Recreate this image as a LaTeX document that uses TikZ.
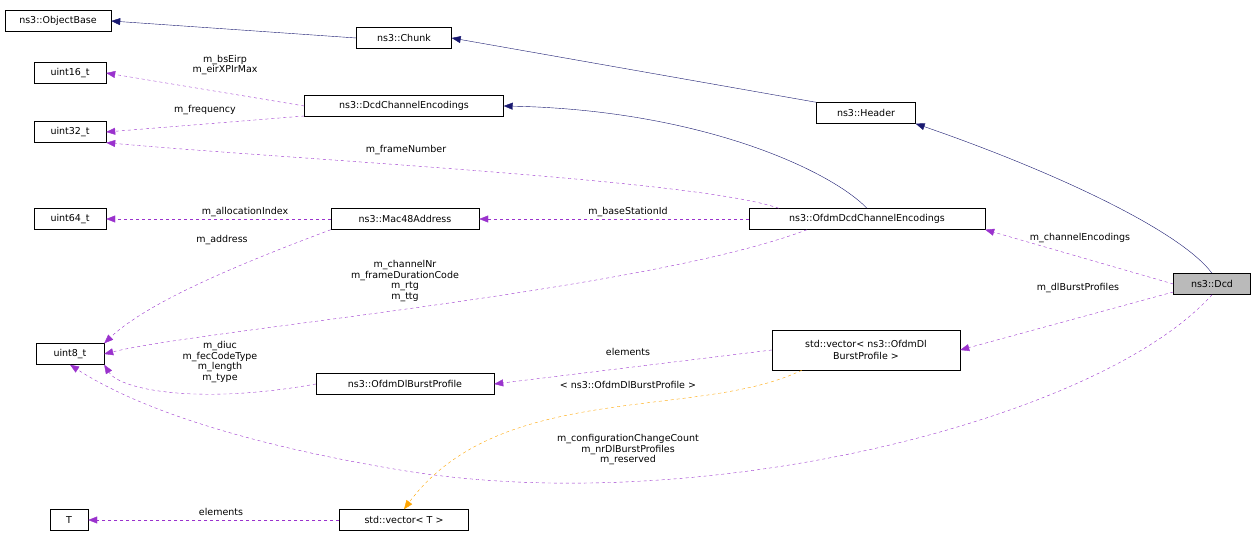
\documentclass[tikz,border=0pt]{standalone}
\usepackage{fontspec}
\setmainfont{DejaVu Sans}
\usetikzlibrary{arrows.meta}
\definecolor{navy}{RGB}{25,25,112}
\definecolor{mem}{RGB}{154,50,205}
\definecolor{tmpl}{RGB}{255,165,0}
\tikzset{
  cls/.style={draw=black,fill=white,inner sep=2pt,font=\fontsize{9.5}{11}\selectfont,align=center,minimum height=21pt},
  inh/.style={navy,-{Triangle[length=9pt,width=7pt]}},
  use/.style={mem,dashed,-{Triangle[length=9pt,width=7pt]}},
  tpl/.style={tmpl,dashed,-{Triangle[length=9pt,width=7pt]}},
  lbl/.style={font=\fontsize{9.5}{10.5}\selectfont,align=center,inner sep=0pt}
}
\begin{document}
\begin{tikzpicture}[x=1pt,y=-1pt]
    \useasboundingbox (0,0) rectangle (1259,540);
    % classes
    \node [cls,minimum width=106pt] (objbase) at (58,21) {ns3::ObjectBase};
    \node [cls,minimum width=95pt] (chunk) at (404,38) {ns3::Chunk};
    \node [cls,minimum width=72pt] (u16) at (70,73) {uint16\_t};
    \node [cls,minimum width=199pt] (dcdenc) at (404,106) {ns3::DcdChannelEncodings};
    \node [cls,minimum width=99pt] (header) at (866,113) {ns3::Header};
    \node [cls,minimum width=72pt] (u32) at (70,132) {uint32\_t};
    \node [cls,minimum width=72pt] (u64) at (70,219) {uint64\_t};
    \node [cls,minimum width=148pt] (mac) at (405,219) {ns3::Mac48Address};
    \node [cls,minimum width=236pt] (ofdmenc) at (867,219) {ns3::OfdmDcdChannelEncodings};
    \node [cls,minimum width=77pt,fill=black!27] (dcd) at (1212,284) {ns3::Dcd};
    \node [cls,minimum width=68pt] (u8) at (70,354) {uint8\_t};
    \node [cls,minimum width=188pt,minimum height=40pt,font=\fontsize{9.5}{12}\selectfont] (vecprof) at (866,350) {std::vector< ns3::OfdmDl\\BurstProfile >};
    \node [cls,minimum width=178pt] (prof) at (405,384) {ns3::OfdmDlBurstProfile};
    \node [cls,minimum width=38pt] (t) at (69,520) {T};
    \node [cls,minimum width=129pt] (vect) at (404,520) {std::vector< T >};
    % inheritance
    \draw [inh] (chunk.west) -- (objbase.east);
    \draw [inh] (header.north west) -- (chunk.east);
    \draw [inh] (ofdmenc.north) .. controls (830,170) and (700,110) .. (dcdenc.east);
    \draw [inh] (dcd.north) .. controls (1180,230) and (1050,170) .. (header.south east);
    % members
    \draw [use] (dcdenc.west) -- (u16.east);
    \node [lbl] at (225,65) {m\_bsEirp\\m\_eirXPIrMax};
    \draw [use] (dcdenc.west |- 0,116) -- (u32.east);
    \node [lbl] at (205,110) {m\_frequency};
    \draw [use] (ofdmenc.north west) ++(30,0) .. controls (700,180) and (300,160) .. (u32.south east);
    \node [lbl] at (406,150) {m\_frameNumber};
    \draw [use] (mac.west) -- (u64.east);
    \node [lbl] at (245,212) {m\_allocationIndex};
    \draw [use] (ofdmenc.west) -- (mac.east);
    \node [lbl] at (628,212) {m\_baseStationId};
    \draw [use] (mac.south west) .. controls (250,260) and (150,300) .. (u8.north east);
    \node [lbl] at (222,240) {m\_address};
    \draw [use] (ofdmenc.south) ++(-60,0) .. controls (650,290) and (200,330) .. (u8.east);
    \node [lbl] at (405,281) {m\_channelNr\\m\_frameDurationCode\\m\_rtg\\m\_ttg};
    \draw [use] (dcd.west) -- (ofdmenc.south east);
    \node [lbl] at (1080,238) {m\_channelEncodings};
    \draw [use] (dcd.west |- 0,292) -- (vecprof.east);
    \node [lbl] at (1078,288) {m\_dlBurstProfiles};
    \draw [use] (vecprof.west) -- (prof.east);
    \node [lbl] at (628,352) {elements};
    \draw [use] (prof.west) .. controls (200,405) and (120,390) .. (u8.south east);
    \node [lbl] at (220,362) {m\_diuc\\m\_fecCodeType\\m\_length\\m\_type};
    \draw [use] (dcd.south) .. controls (1100,420) and (700,520) .. (400,470) .. controls (250,445) and (140,410) .. (u8.south);
    \node [lbl] at (628,450) {m\_configurationChangeCount\\m\_nrDlBurstProfiles\\m\_reserved};
    \draw [tpl] (vecprof.south west) ++(30,0) .. controls (700,420) and (500,380) .. (vect.north);
    \node [lbl] at (628,385) {< ns3::OfdmDlBurstProfile >};
    \draw [use] (vect.west) -- (t.east);
    \node [lbl] at (221,512) {elements};
\end{tikzpicture}
\end{document}
